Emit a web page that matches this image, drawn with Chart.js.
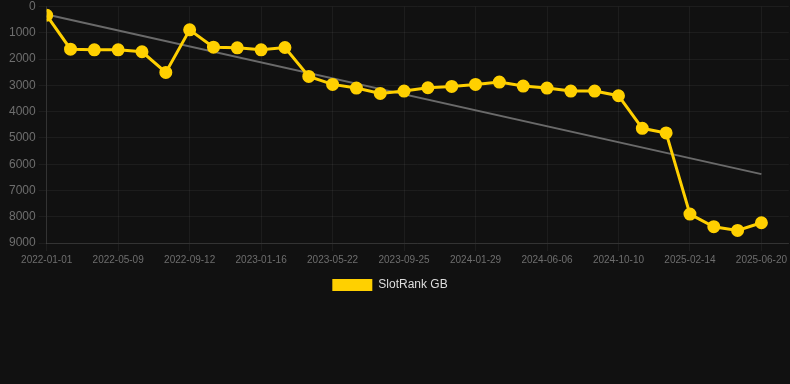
<!DOCTYPE html>
<html>
<head>
<meta charset="utf-8">
<script src="https://cdn.jsdelivr.net/npm/chart.js@4"></script>
<style>
  html, body { margin: 0; padding: 0; background: #111111; }
  #wrap { width: 790px; height: 301px; position: relative; }
</style>
</head>
<body>
<div id="wrap"><canvas id="c"></canvas></div>
<script>
const dates = [
  "2022-01-01","2022-02-12","2022-03-26","2022-05-09","2022-06-20","2022-08-01",
  "2022-09-12","2022-10-24","2022-12-05","2023-01-16","2023-02-27","2023-04-10",
  "2023-05-22","2023-07-03","2023-08-14","2023-09-25","2023-11-06","2023-12-18",
  "2024-01-29","2024-03-11","2024-04-22","2024-06-06","2024-07-18","2024-08-29",
  "2024-10-10","2024-11-21","2025-01-02","2025-02-14","2025-03-28","2025-05-09",
  "2025-06-20"
];
const rankGB = [
  330, 1620, 1645, 1645, 1720, 2507, 886, 1545, 1570, 1645, 1557,
  2658, 2962, 3102, 3304, 3216, 3089, 3038, 2962, 2874, 3025,
  3102, 3216, 3216, 3393, 4633, 4810, 7900, 8380, 8520, 8228
];
const trendIndex = [0, 30];
const trendValues = [300, 6378];
const yTicks = [0, 1000, 2000, 3000, 4000, 5000, 6000, 7000, 8000, 9000];

const FONT = "'Liberation Sans', Arial, Helvetica, sans-serif";
const YELLOW = '#FFD000';

const legendShift = {
  id: 'legendShift',
  afterLayout(chart) {
    if (chart.legend) { chart.legend.left -= 8; chart.legend.right -= 8; }
  }
};

new Chart(document.getElementById('c'), {
  type: 'line',
  plugins: [legendShift],
  data: {
    datasets: [
      {
        label: 'SlotRank GB',
        data: rankGB.map((v, i) => ({ x: i, y: v })),
        borderColor: YELLOW,
        backgroundColor: YELLOW,
        pointBackgroundColor: YELLOW,
        pointBorderColor: YELLOW,
        borderWidth: 3,
        pointRadius: 5,
        tension: 0,
        order: 0
      },
      {
        label: 'trend',
        data: trendIndex.map((x, i) => ({ x: x, y: trendValues[i] })),
        borderColor: '#6a6a6a',
        borderWidth: 2,
        pointRadius: 0,
        tension: 0,
        order: 1
      }
    ]
  },
  options: {
    responsive: true,
    maintainAspectRatio: false,
    animation: false,
    layout: { autoPadding: false, padding: { left: 6, right: 0, top: 0, bottom: 0 } },
    plugins: {
      legend: {
        position: 'bottom',
        labels: {
          filter: (item) => item.text !== 'trend',
          generateLabels: (chart) => {
            const items = Chart.defaults.plugins.legend.labels.generateLabels(chart);
            items.forEach(it => { it.lineWidth = 0; });
            return items;
          },
          boxWidth: 40,
          boxHeight: 12,
          color: '#dddddd',
          font: { family: FONT, size: 12 }
        }
      },
      tooltip: { enabled: false }
    },
    scales: {
      x: {
        type: 'linear',
        min: 0,
        max: 31.15,
        grid: { color: 'rgba(255,255,255,0.05)', tickLength: 8 },
        border: { color: 'rgba(255,255,255,0.1)' },
        ticks: {
          stepSize: 3,
          includeBounds: false,
          autoSkip: false,
          maxRotation: 0,
          color: '#6e6e6e',
          font: { family: FONT, size: 10 },
          callback: (v) => dates[v] !== undefined ? dates[v] : ''
        }
      },
      y: {
        reverse: true,
        min: yTicks[0],
        max: yTicks[yTicks.length - 1],
        grid: { color: 'rgba(255,255,255,0.05)', tickLength: 8 },
        border: { color: 'rgba(255,255,255,0.1)' },
        ticks: {
          stepSize: 1000,
          color: '#6e6e6e',
          font: { family: FONT, size: 12, lineHeight: 0.6 },
          callback: (v) => String(v)
        }
      }
    }
  }
});
</script>
</body>
</html>
